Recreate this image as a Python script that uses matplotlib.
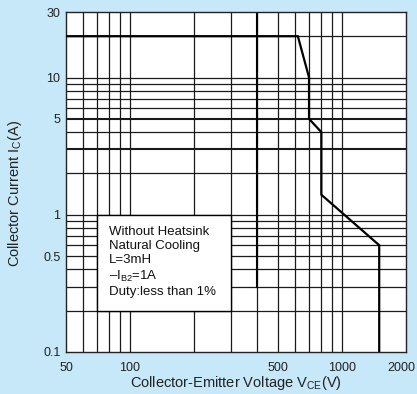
import matplotlib
matplotlib.use("Agg")
import matplotlib.pyplot as plt
import matplotlib.transforms as mtransforms
from matplotlib.patches import Rectangle

plt.rcParams['font.family'] = ['Liberation Sans', 'DejaVu Sans']
plt.rcParams['mathtext.fontset'] = 'custom'
plt.rcParams['mathtext.rm'] = 'Liberation Sans'
plt.rcParams['mathtext.it'] = 'Liberation Sans:italic'
plt.rcParams['mathtext.bf'] = 'Liberation Sans:bold'

# Safe operating area boundary (VCE in V, IC in A)
soa_v = [50, 620, 700, 700, 800, 800, 1500, 1500]
soa_i = [20, 20, 10, 5, 4, 1.4, 0.6, 0.1]

# grid positions
grid_x = [60, 70, 80, 90, 100, 200, 300, 400, 500, 600, 700, 800, 900, 1000]
grid_y = [0.2, 0.3, 0.4, 0.5, 0.6, 0.7, 0.8, 0.9, 1, 2, 3, 4, 5, 6, 7, 8, 9, 10, 20]

x_ticks = [50, 100, 500, 1000, 2000]
x_ticklabels = ["50", "100", "500", "1000", "2000"]
y_ticks = [0.1, 0.5, 1, 5, 10, 30]
y_ticklabels = ["0.1", "0.5", "1", "5", "10", "30"]

note_lines = ["Without Heatsink", "Natural Cooling", "L=3mH",
              "–I$_{\\mathrm{B2}}$=1A", "Duty:less than 1%"]

bg = '#c6e8f8'
fig = plt.figure(figsize=(4.17, 3.94), dpi=100, facecolor=bg)
ax = fig.add_axes([0.1583, 0.1066, 0.8146, 0.8629])
ax.set_facecolor('white')
ax.set_xscale('log')
ax.set_yscale('log')
ax.set_xlim(50, 2000)
ax.set_ylim(0.1, 30)

for gx in grid_x:
    ax.axvline(gx, color='#1a1a1a', lw=0.9, zorder=1)
for gy in grid_y:
    lw = 1.5 if gy in (3, 5) else 0.9
    ax.axhline(gy, color='#1a1a1a', lw=lw, zorder=1)

# bold vertical at 400 V
ax.plot([400, 400], [0.3, 30], color='black', lw=1.5, zorder=2)

ax.plot(soa_v, soa_i, color='black', lw=1.6, zorder=3, solid_joinstyle='miter')

# note box
ax.add_patch(Rectangle((70, 0.2), 300 - 70, 1 - 0.2, facecolor='white',
                       edgecolor='black', lw=1.0, zorder=4))
ax.text(0.127, 0.372, "\n".join(note_lines), transform=ax.transAxes,
        ha='left', va='top', fontsize=9.5, linespacing=1.25, color='#111', zorder=5)

ax.set_xticks(x_ticks)
ax.set_xticklabels(x_ticklabels)
ax.set_yticks(y_ticks)
ax.set_yticklabels(y_ticklabels)
ax.minorticks_off()
ax.tick_params(axis='both', length=0, labelsize=9, colors='#222', pad=4)
ax.tick_params(axis='x', pad=7)
for s in ax.spines.values():
    s.set_color('#222')
    s.set_linewidth(1.0)

# nudge the last x label so it stays inside the image
lbl = ax.get_xticklabels()[-1]
lbl.set_transform(lbl.get_transform() +
                  mtransforms.ScaledTranslation(-3 / 72, 0, fig.dpi_scale_trans))

fig.text(0.565, 0.028, "Collector-Emitter Voltage V$_{\\mathrm{CE}}$(V)",
         ha='center', va='center', fontsize=10.5, color='#222')
fig.text(0.036, 0.51, "Collector Current I$_{\\mathrm{C}}$(A)", rotation=90,
         ha='center', va='center', fontsize=10.5, color='#222')

fig.savefig("out.png", dpi=100, facecolor=bg)
